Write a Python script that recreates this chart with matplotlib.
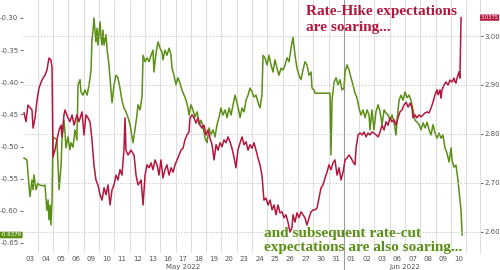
import matplotlib
matplotlib.use("Agg")
from matplotlib import pyplot as plt

# === Datos (x = día hábil desde 03-may-2022, con fracción intradía) ===
day_labels = ["03", "04", "05", "06", "09", "10", "11", "12", "13", "16", "17", "18", "19", "20",
              "23", "24", "25", "26", "27", "30", "31",
              "01", "02", "03", "06", "07", "08", "09", "10"]
months = ["May 2022", "Jun 2022"]
month_days = [21, 8]

# Rate-hike expectations (eje derecho)
hike_t = [0.10, 0.23, 0.36, 0.62, 0.69, 0.82, 0.95, 1.08, 1.27, 1.47, 1.60, 1.73, 1.86, 1.93,
          1.99, 2.12, 2.25, 2.39, 2.52, 2.58, 2.71, 2.78, 2.97, 3.10, 3.24, 3.37, 3.56, 3.69,
          3.89, 4.02, 4.15, 4.28, 4.41, 4.54, 4.67, 4.80, 4.93, 5.07, 5.20, 5.33, 5.46, 5.59,
          5.72, 5.85, 5.98, 6.11, 6.24, 6.37, 6.50, 6.63, 6.70, 6.76, 6.90, 7.09, 7.29, 7.42,
          7.55, 7.68, 7.75, 7.88, 8.01, 8.14, 8.27, 8.40, 8.53, 8.66, 8.79, 8.92, 9.05, 9.18,
          9.31, 9.44, 9.58, 9.71, 9.84, 9.97, 10.10, 10.23, 10.36, 10.49, 10.62, 10.75, 10.88,
          10.95, 11.08, 11.21, 11.34, 11.47, 11.60, 11.73, 11.86, 11.99, 12.12, 12.25, 12.39,
          12.52, 12.65, 12.78, 12.91, 13.04, 13.17, 13.30, 13.43, 13.56, 13.69, 13.82, 13.95,
          14.08, 14.22, 14.35, 14.48, 14.61, 14.74, 14.87, 15.00, 15.13, 15.26, 15.39, 15.52,
          15.65, 15.78, 15.91, 16.05, 16.18, 16.31, 16.44, 16.57, 16.70, 16.83, 16.96, 17.09,
          17.22, 17.35, 17.48, 17.61, 17.68, 17.81, 17.94, 18.07, 18.20, 18.33, 18.46, 18.59,
          18.73, 18.86, 18.99, 19.12, 19.25, 19.38, 19.51, 19.64, 19.77, 19.90, 20.03, 20.16,
          20.29, 20.42, 20.56, 20.69, 20.82, 20.95, 21.08, 21.21, 21.34, 21.47, 21.60, 21.73,
          21.80, 21.93, 22.06, 22.19, 22.32, 22.45, 22.58, 22.71, 22.84, 22.97, 23.10, 23.24,
          23.37, 23.50, 23.63, 23.76, 23.89, 24.02, 24.15, 24.28, 24.41, 24.54, 24.67, 24.80,
          24.93, 25.07, 25.20, 25.33, 25.46, 25.52, 25.65, 25.78, 25.92, 26.05, 26.18, 26.31,
          26.44, 26.57, 26.70, 26.83, 26.96, 27.09, 27.16, 27.29, 27.35, 27.42, 27.55, 27.68,
          27.81, 27.94, 28.07, 28.20, 28.27, 28.33, 28.40, 28.46, 28.53, 28.59, 28.66]
hike_v = [2.843, 2.825, 2.859, 2.849, 2.812, 2.833, 2.869, 2.894, 2.910, 2.920, 2.931, 2.955,
          2.951, 2.935, 2.753, 2.767, 2.788, 2.808, 2.818, 2.794, 2.839, 2.849, 2.833, 2.825,
          2.839, 2.818, 2.839, 2.825, 2.845, 2.798, 2.839, 2.833, 2.825, 2.788, 2.737, 2.706,
          2.696, 2.676, 2.665, 2.690, 2.676, 2.696, 2.655, 2.686, 2.696, 2.716, 2.706, 2.727,
          2.716, 2.767, 2.833, 2.767, 2.757, 2.767, 2.757, 2.716, 2.696, 2.702, 2.706, 2.655,
          2.716, 2.737, 2.731, 2.741, 2.727, 2.747, 2.737, 2.716, 2.747, 2.710, 2.727, 2.737,
          2.716, 2.731, 2.722, 2.737, 2.747, 2.757, 2.767, 2.771, 2.788, 2.798, 2.804, 2.833,
          2.839, 2.833, 2.822, 2.833, 2.818, 2.812, 2.818, 2.798, 2.808, 2.792, 2.778, 2.747,
          2.778, 2.767, 2.782, 2.774, 2.788, 2.782, 2.794, 2.784, 2.771, 2.753, 2.731, 2.767,
          2.782, 2.794, 2.778, 2.784, 2.767, 2.778, 2.771, 2.782, 2.767, 2.751, 2.737, 2.716,
          2.665, 2.669, 2.655, 2.665, 2.645, 2.655, 2.635, 2.655, 2.639, 2.641, 2.629, 2.635,
          2.620, 2.600, 2.608, 2.635, 2.620, 2.639, 2.629, 2.641, 2.635, 2.629, 2.614, 2.629,
          2.641, 2.645, 2.645, 2.649, 2.669, 2.690, 2.696, 2.710, 2.722, 2.737, 2.727, 2.741,
          2.747, 2.716, 2.731, 2.706, 2.722, 2.747, 2.751, 2.757, 2.751, 2.743, 2.737, 2.771,
          2.798, 2.802, 2.798, 2.804, 2.794, 2.802, 2.798, 2.804, 2.802, 2.798, 2.794, 2.804,
          2.818, 2.808, 2.825, 2.818, 2.833, 2.825, 2.829, 2.818, 2.833, 2.845, 2.849, 2.859,
          2.865, 2.855, 2.863, 2.853, 2.833, 2.839, 2.833, 2.839, 2.835, 2.839, 2.843, 2.845,
          2.843, 2.853, 2.865, 2.880, 2.890, 2.880, 2.890, 2.873, 2.890, 2.900, 2.906, 2.900,
          2.910, 2.906, 2.914, 2.906, 2.904, 2.914, 2.920, 2.927, 2.914, 3.0375]

# Rate-cut expectations (eje izquierdo)
cut_t = [0.10, 0.29, 0.42, 0.49, 0.62, 0.69, 0.75, 0.88, 1.01, 1.14, 1.34, 1.47, 1.54, 1.60,
         1.67, 1.73, 1.80, 1.86, 1.93, 1.99, 2.12, 2.25, 2.32, 2.39, 2.52, 2.58, 2.71, 2.78,
         2.84, 2.97, 3.10, 3.17, 3.30, 3.43, 3.56, 3.63, 3.76, 3.82, 3.95, 4.08, 4.22, 4.35,
         4.48, 4.54, 4.61, 4.67, 4.74, 4.80, 4.87, 4.93, 5.07, 5.13, 5.20, 5.26, 5.33, 5.46,
         5.52, 5.65, 5.78, 5.85, 5.98, 6.11, 6.24, 6.37, 6.50, 6.63, 6.76, 6.90, 7.03, 7.22,
         7.35, 7.48, 7.55, 7.68, 7.81, 7.88, 8.01, 8.14, 8.27, 8.40, 8.53, 8.59, 8.73, 8.86,
         8.99, 9.12, 9.18, 9.31, 9.44, 9.58, 9.71, 9.77, 9.90, 10.03, 10.16, 10.29, 10.42,
         10.56, 10.69, 10.82, 10.88, 11.01, 11.14, 11.27, 11.41, 11.54, 11.67, 11.80, 11.93,
         12.06, 12.19, 12.32, 12.45, 12.58, 12.71, 12.84, 12.97, 13.10, 13.24, 13.37, 13.50,
         13.63, 13.76, 13.89, 14.02, 14.15, 14.22, 14.35, 14.48, 14.61, 14.74, 14.87, 15.00,
         15.13, 15.26, 15.39, 15.52, 15.65, 15.72, 15.85, 15.98, 16.11, 16.24, 16.37, 16.50,
         16.63, 16.76, 16.90, 17.03, 17.16, 17.29, 17.42, 17.55, 17.68, 17.81, 17.94, 18.07,
         18.20, 18.33, 18.46, 18.59, 18.73, 18.86, 18.92, 19.05, 19.12, 20.10, 20.16, 20.23,
         20.36, 20.49, 20.62, 20.75, 20.88, 21.01, 21.08, 21.21, 21.34, 21.47, 21.60, 21.73,
         21.86, 21.99, 22.12, 22.25, 22.39, 22.52, 22.65, 22.71, 22.84, 22.97, 23.10, 23.24,
         23.37, 23.50, 23.63, 23.76, 23.89, 24.02, 24.15, 24.28, 24.41, 24.48, 24.61, 24.74,
         24.87, 25.00, 25.13, 25.26, 25.39, 25.52, 25.65, 25.78, 25.92, 26.05, 26.18, 26.31,
         26.44, 26.57, 26.70, 26.83, 26.96, 27.09, 27.22, 27.35, 27.48, 27.61, 27.74, 27.88,
         28.01, 28.07, 28.20, 28.33, 28.46, 28.59, 28.66, 28.73]
cut_v = [-0.518, -0.521, -0.560, -0.578, -0.552, -0.567, -0.544, -0.567, -0.557, -0.560, -0.561,
         -0.560, -0.583, -0.599, -0.583, -0.614, -0.591, -0.622, -0.583, -0.485, -0.487, -0.490,
         -0.529, -0.567, -0.529, -0.490, -0.459, -0.479, -0.502, -0.485, -0.505, -0.494, -0.501,
         -0.474, -0.490, -0.404, -0.396, -0.415, -0.420, -0.412, -0.420, -0.404, -0.381, -0.334,
         -0.319, -0.300, -0.319, -0.337, -0.316, -0.342, -0.306, -0.330, -0.342, -0.319, -0.342,
         -0.326, -0.347, -0.373, -0.412, -0.432, -0.404, -0.389, -0.393, -0.409, -0.428, -0.440,
         -0.446, -0.455, -0.466, -0.494, -0.474, -0.451, -0.435, -0.443, -0.423, -0.358, -0.368,
         -0.362, -0.368, -0.358, -0.350, -0.384, -0.354, -0.337, -0.347, -0.353, -0.365, -0.350,
         -0.358, -0.347, -0.358, -0.378, -0.389, -0.404, -0.393, -0.401, -0.412, -0.420, -0.428,
         -0.440, -0.451, -0.435, -0.443, -0.454, -0.446, -0.466, -0.459, -0.470, -0.487, -0.494,
         -0.471, -0.482, -0.474, -0.485, -0.466, -0.455, -0.440, -0.451, -0.443, -0.455, -0.440,
         -0.451, -0.435, -0.420, -0.432, -0.446, -0.455, -0.440, -0.446, -0.428, -0.420, -0.409,
         -0.415, -0.423, -0.420, -0.431, -0.440, -0.420, -0.358, -0.362, -0.373, -0.358, -0.373,
         -0.384, -0.365, -0.378, -0.389, -0.378, -0.381, -0.373, -0.362, -0.368, -0.347, -0.330,
         -0.358, -0.378, -0.389, -0.396, -0.381, -0.368, -0.373, -0.389, -0.384, -0.409, -0.412,
         -0.417, -0.417, -0.513, -0.428, -0.400, -0.393, -0.404, -0.396, -0.412, -0.409, -0.384,
         -0.373, -0.381, -0.393, -0.404, -0.417, -0.424, -0.440, -0.451, -0.443, -0.455, -0.443,
         -0.451, -0.474, -0.443, -0.474, -0.446, -0.435, -0.446, -0.466, -0.443, -0.448, -0.451,
         -0.459, -0.451, -0.462, -0.482, -0.459, -0.428, -0.420, -0.428, -0.415, -0.424, -0.420,
         -0.428, -0.443, -0.459, -0.462, -0.466, -0.474, -0.463, -0.471, -0.462, -0.474, -0.482,
         -0.466, -0.479, -0.487, -0.479, -0.487, -0.482, -0.502, -0.510, -0.524, -0.502, -0.521,
         -0.532, -0.529, -0.552, -0.583, -0.599, -0.6376]

left_ticks = [-0.30, -0.35, -0.40, -0.45, -0.50, -0.55, -0.60, -0.65]
right_ticks = [2.60, 2.70, 2.80, 2.90, 3.00]

# === Estilo ===
RED = "#b3173d"
GREEN = "#5b8f16"
GRID = "#d8d8d8"
TXT = "#555555"

fig = plt.figure(figsize=(5, 2.7), dpi=100)
ax = fig.add_axes([0.045, 0.063, 0.915, 0.937])
ax2 = ax.twinx()

n_days = len(day_labels)
ax.set_xlim(0, 29.9)
ax.set_ylim(-0.6656, -0.272)
ax2.set_ylim(2.557, 3.0735)

# rejilla vertical (límites de día) y separador de mes
for d in range(1, n_days + 1):
    ax.axvline(d, color=GRID, lw=0.6, zorder=0)
sep = month_days[0]
ax.axvline(sep, color="#9a9a9a", lw=0.8, zorder=0)
ax.plot([sep, sep], [0, -0.07], transform=ax.get_xaxis_transform(),
        color="#9a9a9a", lw=0.8, clip_on=False)

# rejilla horizontal punteada (según el eje derecho)
for v in right_ticks:
    ax2.axhline(v, color="#bdbdbd", lw=0.6, ls=(0, (1.5, 2)), zorder=0)

ax.plot(cut_t, cut_v, color=GREEN, lw=1.1, zorder=3)
ax2.plot(hike_t, hike_v, color=RED, lw=1.1, zorder=3)

ax.set_xticks([i + 0.5 for i in range(n_days)])
ax.set_xticklabels(day_labels)
ax.set_yticks(left_ticks)
ax.set_yticklabels([f"{v:.2f}" for v in left_ticks])
ax2.set_yticks(right_ticks)
ax2.set_yticklabels([f"{v:.2f}" for v in right_ticks])

ax.tick_params(axis="x", length=0, labelsize=5, colors=TXT, pad=2)
ax.tick_params(axis="y", length=2, width=0.6, labelsize=5, colors=TXT, pad=1)
ax2.tick_params(axis="y", length=2, width=0.6, labelsize=5, colors=TXT, pad=1)

for a in (ax, ax2):
    for s in ("top", "bottom", "left"):
        a.spines[s].set_visible(False)
    a.spines["right"].set_color(GRID)
    a.spines["right"].set_linewidth(0.6)
ax.spines["right"].set_visible(False)

# etiquetas de mes
start = 0
for name, nd in zip(months, month_days):
    ax.text(start + nd / 2, -0.045, name, transform=ax.get_xaxis_transform(),
            ha="center", va="top", fontsize=5, color=TXT)
    start += nd

# valores finales en caja
ax2.annotate(f"{hike_v[-1]:.4f}", xy=(1.0, hike_v[-1]), xycoords=("axes fraction", "data"),
             xytext=(0.5, 0), textcoords="offset points", ha="left", va="center",
             fontsize=3.7, color="white",
             bbox=dict(boxstyle="round,pad=0.12", fc=RED, ec="none"), annotation_clip=False)
ax.annotate(f"{cut_v[-1]:.4f}", xy=(0.0, cut_v[-1]), xycoords=("axes fraction", "data"),
            xytext=(-0.5, 0), textcoords="offset points", ha="right", va="center",
            fontsize=4, color="white",
            bbox=dict(boxstyle="round,pad=0.15", fc=GREEN, ec="none"), annotation_clip=False)

# textos
fig.text(0.612, 0.982, "Rate-Hike expectations\nare soaring...", ha="left", va="top",
         fontsize=11, family="Liberation Serif", weight="bold", color=RED, linespacing=1.3)
fig.text(0.528, 0.158, "and subsequent rate-cut\nexpectations are also soaring...", ha="left",
         va="top", fontsize=11, family="Liberation Serif", weight="bold", color=GREEN,
         linespacing=1.1)

fig.savefig("out.png", dpi=100, facecolor="white")
plt.close(fig)
